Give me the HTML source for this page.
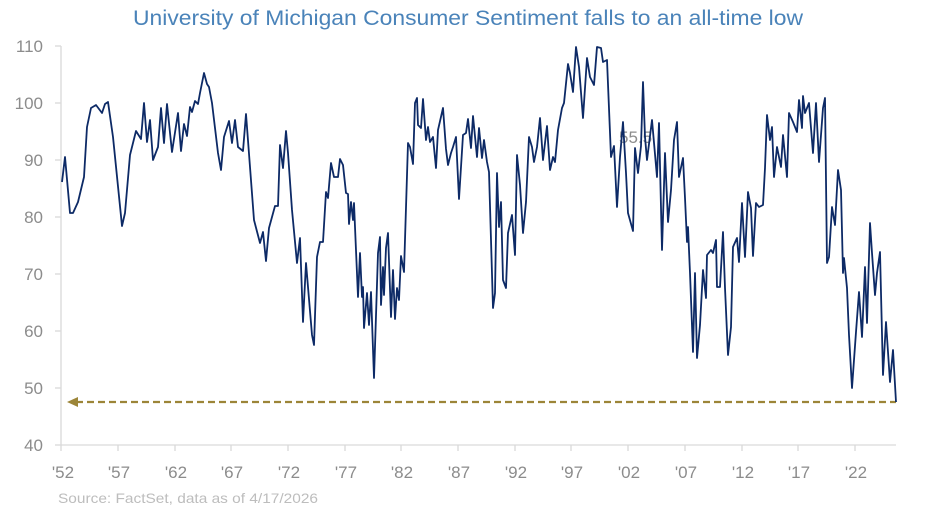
<!DOCTYPE html>
<html><head><meta charset="utf-8"><style>
body{margin:0;background:#fff;}
svg{display:block;font-family:"Liberation Sans",sans-serif;}
</style></head><body>
<svg width="936" height="514" viewBox="0 0 936 514" xmlns="http://www.w3.org/2000/svg">
<text x="133" y="25" textLength="670" lengthAdjust="spacingAndGlyphs" font-size="21" fill="#4a83b9" font-family="Liberation Sans, sans-serif">University of Michigan Consumer Sentiment falls to an all-time low</text>
<g stroke="#d9d9d9" stroke-width="1.3" fill="none">
<line x1="61" y1="46" x2="61" y2="445"/>
<line x1="61" y1="445" x2="896" y2="445"/>
<line x1="55" y1="46" x2="61" y2="46"/><line x1="55" y1="103" x2="61" y2="103"/><line x1="55" y1="160" x2="61" y2="160"/><line x1="55" y1="217" x2="61" y2="217"/><line x1="55" y1="274" x2="61" y2="274"/><line x1="55" y1="331" x2="61" y2="331"/><line x1="55" y1="388" x2="61" y2="388"/><line x1="55" y1="445" x2="61" y2="445"/>
<line x1="61" y1="445" x2="61" y2="451"/><line x1="118" y1="445" x2="118" y2="451"/><line x1="175" y1="445" x2="175" y2="451"/><line x1="231" y1="445" x2="231" y2="451"/><line x1="288" y1="445" x2="288" y2="451"/><line x1="345" y1="445" x2="345" y2="451"/><line x1="401" y1="445" x2="401" y2="451"/><line x1="458" y1="445" x2="458" y2="451"/><line x1="515" y1="445" x2="515" y2="451"/><line x1="571" y1="445" x2="571" y2="451"/><line x1="628" y1="445" x2="628" y2="451"/><line x1="685" y1="445" x2="685" y2="451"/><line x1="742" y1="445" x2="742" y2="451"/><line x1="798" y1="445" x2="798" y2="451"/><line x1="855" y1="445" x2="855" y2="451"/>
</g>
<g font-size="17" fill="#8c8c8c" text-anchor="end">
<text x="43" y="52">110</text><text x="43" y="109">100</text><text x="43" y="166">90</text><text x="43" y="223">80</text><text x="43" y="280">70</text><text x="43" y="337">60</text><text x="43" y="394">50</text><text x="43" y="451">40</text>
</g>
<g font-size="17" fill="#8c8c8c" text-anchor="middle">
<text x="63" y="478">'52</text><text x="119" y="478">'57</text><text x="176" y="478">'62</text><text x="232" y="478">'67</text><text x="289" y="478">'72</text><text x="346" y="478">'77</text><text x="402" y="478">'82</text><text x="459" y="478">'87</text><text x="516" y="478">'92</text><text x="572" y="478">'97</text><text x="629" y="478">'02</text><text x="686" y="478">'07</text><text x="743" y="478">'12</text><text x="799" y="478">'17</text><text x="856" y="478">'22</text>
</g>
<text x="58" y="503" font-size="14" textLength="260" lengthAdjust="spacingAndGlyphs" fill="#bdbdbd">Source: FactSet, data as of 4/17/2026</text>
<text x="619" y="143" font-size="17" fill="#8c8c8c">55.5</text>
<line x1="76" y1="402" x2="896" y2="402" stroke="#9c8538" stroke-width="2.2" stroke-dasharray="7,4"/>
<polygon points="67,402 78,397 78,407" fill="#9c8538"/>
<polyline fill="none" stroke="#0d2a66" stroke-width="1.8" stroke-linejoin="round" points="
62,182 65,157 70,213 73,213 78,202 84,177 87,127 91,108 96,105 102,113 105,104 108,102 113,137 122,226 125,213 130,155 136,131 141,139 144,103 147,142 150,120 153,160 158,147 161,108 164,143 167,104 172,152 178,113 181,151 184,124 187,136 190,107 192,112 195,101 198,104 200,93 204,73 207,84 209,87 212,103 218,153 221,170 224,137 229,121 232,143 235,120 238,147 243,151 246,114 254,220 260,243 263,232 266,261 269,228 275,206 278,206 280,145 283,168 286,131 288,153 292,210 297,263 300,238 303,322 306,263 312,335 314,345 317,257 320,242 323,242 326,192 328,198 331,163 334,177 338,177 340,159 343,165 346,193 348,194 349,224 351,202 353,220 354,203 355,227
358,297 360,253 362,297 363,287 364,328 367,293 369,325 371,292 374,378 378,253 380,237 381,305 383,267 384,295 386,248 388,233 391,317 393,270 395,319 397,288 399,300 401,256 404,272 408,143 410,147 413,164 415,103 417,98 418,125 421,128 423,99 426,140 428,127 430,142 433,137 436,168 438,130 443,108 446,149 448,165 451,153 453,147 456,137 459,199 463,135 466,133 468,119 471,148 473,116 477,157 479,128 482,158 484,140 487,162 489,172 491,240 493,308 495,293 497,173 499,227 501,202 503,280 506,288 508,233 512,215 515,255 517,155 520,185 523,233 526,202 529,137 532,147 534,162 537,147 540,118 543,160 547,126 550,170 553,157 555,162 558,130 562,108 564,103 568,64 570,73 573,92 576,47 579,67 583,118 587,58 590,77 594,85 597,47 601,48 603,62 607,60 611,157 614,146 617,207 620,157 623,122 626,173 628,213 633,231 635,148 638,173 641,146 643,82 645,137 647,160 652,120 657,177 659,123 662,250 665,153 668,222 671,190 674,140 677,122 679,177 683,158 685,198 687,242 688,227 690,273 693,352 695,273 697,358 700,325 703,270 706,298 707,255 711,250 713,253 716,240 717,287 720,287 723,232 725,288 728,355 731,327 733,247 737,238 739,262 742,203 745,257 748,192 751,208 753,256 756,203 759,207 763,205 765,168 767,115 770,140 772,127 774,177 777,147 781,167 783,135 787,177 789,113 793,122 797,132 799,100 802,128 803,96 805,113 809,103 813,153 816,103 819,162 823,108 825,98 827,263 829,257 832,207 835,225 838,170 841,190 843,273 844,258 847,288 849,335 852,388 856,332 859,292 862,337 865,267 867,323 870,223 872,253 875,295 877,273 880,252 883,375 886,322 890,382 893,350 896,402"/>
</svg>
</body></html>
